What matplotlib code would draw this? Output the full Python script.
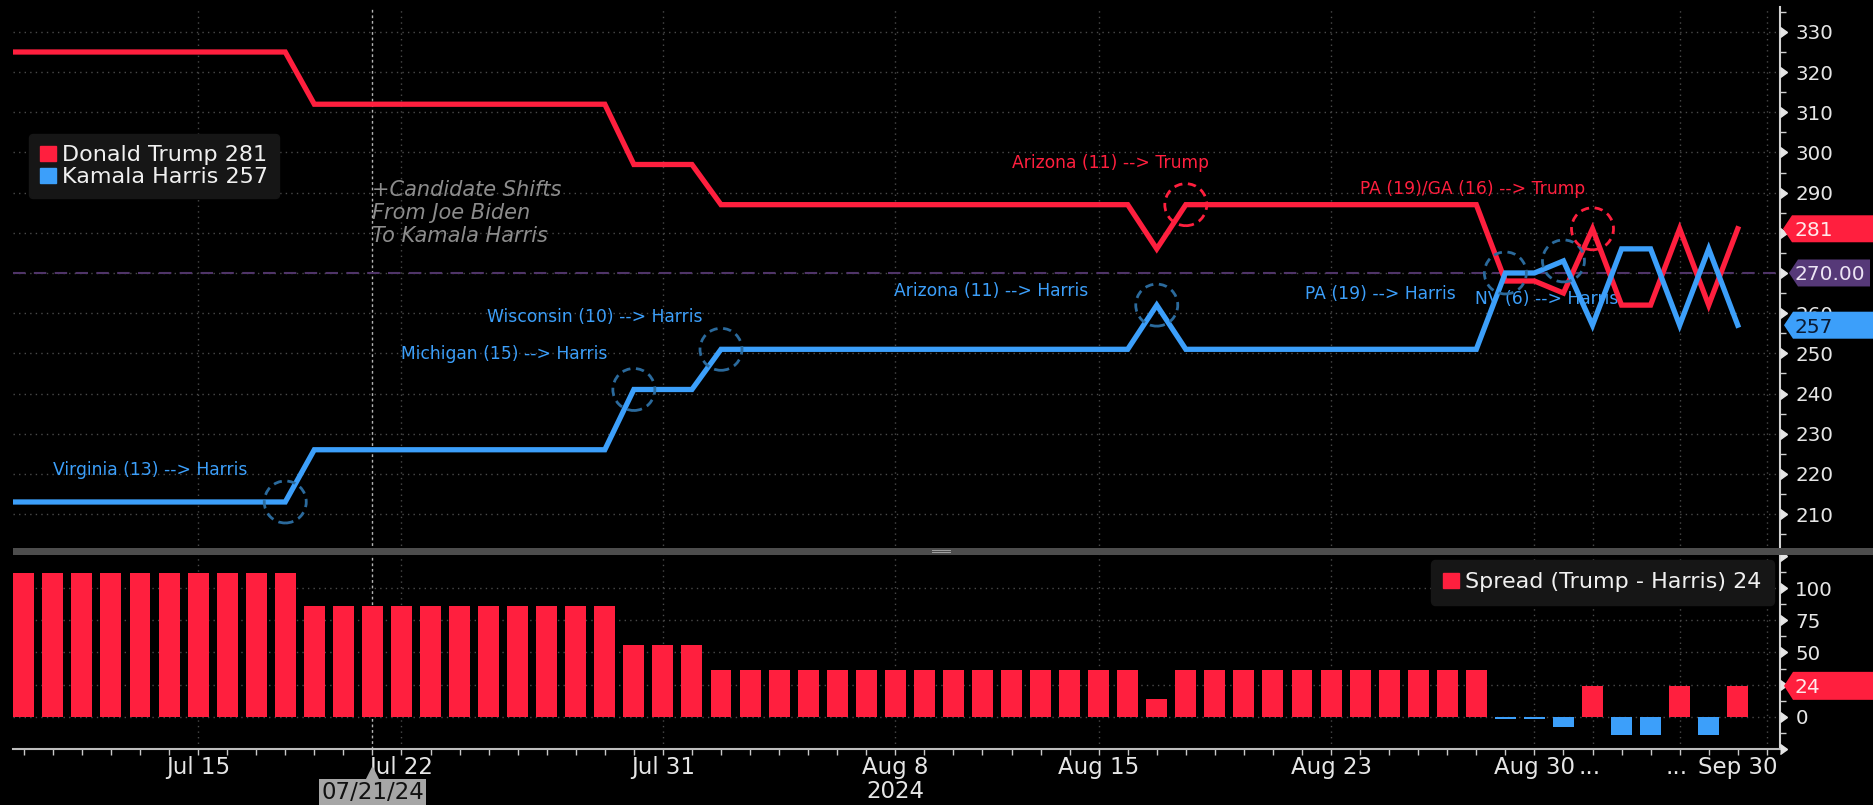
import numpy as np
import matplotlib.pyplot as plt
from matplotlib.patches import Ellipse, Patch, Polygon, Rectangle
from matplotlib.transforms import blended_transform_factory

plt.rcParams["font.family"] = ["DejaVu Sans"]

RED = "#ff1f3e"
BLUE = "#3c9ffa"
BLUE_RING = "#2b6a9c"
PURPLE = "#4f3468"
GRID = "#4a4a4a"
TXT = "#e6e6e6"

# day index: 0 = Jul 9 (index -1 = Jul 8, runs off the left edge)
days = np.arange(-1, 60)
trump = np.array([325] * 11 + [312] * 11 + [297] * 3 + [287] * 15 + [276] + [287] * 11
                 + [268, 268, 265, 281, 262, 262, 281, 262, 281])
harris = np.array([213] * 11 + [226] * 11 + [241] * 3 + [251] * 15 + [262] + [251] * 11
                  + [270, 270, 273, 257, 276, 276, 257, 276, 257])
spread = trump - harris

tick_pos = [6, 13, 22, 30, 37, 45, 52, 59]
tick_labels = ["Jul 15", "Jul 22", "Jul 31", "Aug 8\n2024", "Aug 15", "Aug 23", "Aug 30", "Sep 30"]
grid_days = [6, 13, 22, 30, 37, 45, 52, 54, 57, 60]
shift_day = 12  # 07/21/24
majority = 270

top_ticks = [210, 220, 230, 240, 250, 260, 270, 280, 290, 300, 310, 320, 330]
bottom_ticks = [-25, 0, 25, 50, 75, 100, 125]

# (label, circled day, circled value, text day, text value, colour)
events = [
    ("Virginia (13) --> Harris", 9, 213, 1.0, 221.0, "blue"),
    ("Michigan (15) --> Harris", 21, 241, 13.0, 249.8, "blue"),
    ("Wisconsin (10) --> Harris", 24, 251, 15.95, 259.1, "blue"),
    ("Arizona (11) --> Harris", 39, 262, 29.95, 265.4, "blue"),
    ("Arizona (11) --> Trump", 40, 287, 34.0, 297.3, "red"),
    ("PA (19) --> Harris", 51, 270, 44.1, 264.8, "blue"),
    ("NV (6) --> Harris", 53, 273, 49.95, 263.5, "blue"),
    ("PA (19)/GA (16) --> Trump", 54, 281, 46.0, 290.8, "red"),
]

W, H = 1873, 805
fig = plt.figure(figsize=(W / 100, H / 100), dpi=100, facecolor="black")


def frame(x0, y0, x1, y1):
    return [x0 / W, 1 - y1 / H, (x1 - x0) / W, (y1 - y0) / H]


ax = fig.add_axes(frame(13, 7, 1780, 551), facecolor="black")
ax2 = fig.add_axes(frame(13, 553, 1780, 749), facecolor="black", sharex=ax)

px_day, x_first = 29.05, 23.8
ax.set_xlim((13 - x_first) / px_day, (1780 - x_first) / px_day)
ax.set_ylim(200.8, 336.2)
ax2.set_ylim(-25.2, 127.5)

# flags on the right cover these tick labels
hidden = {trump[-1] // 10 * 10, majority, 25}

for a in (ax, ax2):
    for s in ("left", "top", "bottom"):
        a.spines[s].set_visible(False)
    a.spines["right"].set_color("#d0d0d0")
    a.spines["right"].set_linewidth(1.5)
    a.yaxis.tick_right()
    for g in grid_days:
        a.axvline(g, color=GRID, lw=1, ls=(0, (1, 3)), zorder=1)
    a.axvline(shift_day, color="#b5b5b5", lw=1, ls=(0, (2, 2)), zorder=1)
ax2.spines["bottom"].set_visible(True)
ax2.spines["bottom"].set_color("#bdbdbd")
ax2.spines["bottom"].set_linewidth(1.5)

# ---- top panel ----
ax.set_yticks(top_ticks)
ax.set_yticklabels(["" if t in hidden else str(t) for t in top_ticks])
ax.set_yticks(np.arange(205, 336, 10), minor=True)
ax.tick_params(axis="y", which="major", length=0, pad=11, labelsize=14.3, labelcolor=TXT)
ax.tick_params(axis="y", which="minor", length=4, width=1, color="#d0d0d0")
ax.tick_params(axis="x", which="both", bottom=False, labelbottom=False)
ax.grid(axis="y", which="major", color=GRID, ls=(0, (1, 3)), lw=1)
ax.set_axisbelow(True)
edge = blended_transform_factory(ax.transAxes, ax.transData)
ax.plot(np.ones(len(top_ticks)), top_ticks, ls="none", marker=9, ms=7, color=TXT,
        transform=edge, clip_on=False, zorder=6)

ax.axhline(majority, color=PURPLE, lw=1.5, ls=(0, (6, 4)), zorder=2)
ax.plot(days, trump, color=RED, lw=3.8, solid_joinstyle="miter", zorder=3)
ax.plot(days, harris, color=BLUE, lw=3.8, solid_joinstyle="miter", zorder=3.1)

for label, d, v, tx, ty, c in events:
    ring = RED if c == "red" else BLUE_RING
    tcol = RED if c == "red" else BLUE
    ax.add_patch(Ellipse((d, v), width=42 / px_day, height=42 / 4.017, fill=False,
                         ec=ring, lw=2, ls=(0, (3, 2)), zorder=4))
    ax.text(tx, ty, label, color=tcol, fontsize=12.3, ha="left", va="center", zorder=1.5)

ax.text(shift_day, 285.0, "+Candidate Shifts\nFrom Joe Biden\nTo Kamala Harris", color="#8c8c8c",
        fontsize=15, style="italic", ha="left", va="center", linespacing=1.2, zorder=2)

ax.legend(handles=[Patch(color=RED, label=f"Donald Trump {trump[-1]}"),
                   Patch(color=BLUE, label=f"Kamala Harris {harris[-1]}")],
          loc="upper left", bbox_to_anchor=(0.009, 0.7665), fontsize=16,
          handlelength=0.7, handleheight=0.7, handletextpad=0.3, labelspacing=0.1,
          borderpad=0.5, borderaxespad=0, frameon=True, fancybox=True,
          facecolor="#161616", edgecolor="#161616", framealpha=1, labelcolor="#f0f0f0")

# ---- bottom panel ----
ax2.bar(days, spread, width=0.72, color=[RED if s > 0 else BLUE for s in spread], zorder=3)
ax2.set_yticks([0, 25, 50, 75, 100])
ax2.set_yticklabels(["" if t in hidden else str(t) for t in [0, 25, 50, 75, 100]])
ax2.set_yticks(np.arange(-12.5, 126, 25), minor=True)
ax2.tick_params(axis="y", which="major", length=0, pad=11, labelsize=14.3, labelcolor=TXT)
ax2.tick_params(axis="y", which="minor", length=4, width=1, color="#d0d0d0")
ax2.grid(axis="y", which="major", color=GRID, ls=(0, (1, 3)), lw=1)
ax2.axhline(-25, color=GRID, ls=(0, (1, 3)), lw=1, zorder=1)
edge2 = blended_transform_factory(ax2.transAxes, ax2.transData)
ax2.plot(np.ones(len(bottom_ticks)), bottom_ticks, ls="none", marker=9, ms=7, color=TXT,
         transform=edge2, clip_on=False, zorder=6)

ax2.set_xticks(tick_pos)
ax2.set_xticklabels(tick_labels)
ax2.set_xticks(np.arange(0, 61), minor=True)
ax2.tick_params(axis="x", which="both", length=4.5, width=1, color="#c8c8c8", labelsize=16.5,
                labelcolor=TXT, pad=0.5)
for lab in ax2.get_xticklabels():
    lab.set_linespacing(1.05)
dots = blended_transform_factory(ax2.transData, ax2.transAxes)
ax2.text(53.9, -0.034, "...", transform=dots, ha="center", va="top", fontsize=16.5, color=TXT)
ax2.text(56.9, -0.034, "...", transform=dots, ha="center", va="top", fontsize=16.5, color=TXT)

ax2.legend(handles=[Patch(color=RED, label=f"Spread (Trump - Harris) {spread[-1]}")],
           loc="upper right", bbox_to_anchor=(0.9966, 0.964), fontsize=16,
           handlelength=0.7, handleheight=0.7, handletextpad=0.3, borderpad=0.55,
           borderaxespad=0, frameon=True, fancybox=True, facecolor="#161616",
           edgecolor="#161616", framealpha=1, labelcolor="#f0f0f0")

# 07/21/24 marker under the axis
mark = blended_transform_factory(ax2.transData, fig.transFigure)
ax2.plot([shift_day], [1 - 773 / H], marker="^", ms=9, color="#a6a6a6", transform=mark, clip_on=False)
ax2.text(shift_day, 1 - 792 / H, "07/21/24", transform=mark, ha="center", va="center",
         fontsize=16.5, color="#111111",
         bbox=dict(boxstyle="square,pad=0.08", fc="#a6a6a6", ec="none"))

# panel separator
fig.add_artist(Rectangle((13 / W, 1 - 555 / H), (W - 13) / W, 7 / H, transform=fig.transFigure,
                         fc="#4d4d4d", ec="none", zorder=10))
fig.add_artist(Rectangle((932 / W, 1 - 553 / H), 19 / W, 1 / H, transform=fig.transFigure,
                         fc="#a0a0a0", ec="none", zorder=11))
fig.add_artist(Rectangle((932 / W, 1 - 551 / H), 19 / W, 1 / H, transform=fig.transFigure,
                         fc="#a0a0a0", ec="none", zorder=11))


# value flags on the right edge
def flag(axis, value, label, fc, tc, x0, x1, h, tx):
    y = axis.transData.transform((0, value))[1]
    pts = [(x0, y), (x0 + 9, y + h / 2), (x1, y + h / 2), (x1, y - h / 2), (x0 + 9, y - h / 2)]
    fig.add_artist(Polygon([(px / W, py / H) for px, py in pts], closed=True,
                           transform=fig.transFigure, fc=fc, ec="none", zorder=12))
    fig.text(tx / W, (y - 7.3) / H, label, ha="left", va="baseline",
             color=tc, fontsize=14.5, zorder=13)


flag(ax, trump[-1], f"{trump[-1]}", RED, "#ffe8ea", 1783, 1873, 27, 1794)
flag(ax, majority, f"{majority:.2f}", "#563978", "#ece4f4", 1789, 1870, 27, 1795)
flag(ax, harris[-1], f"{harris[-1]}", BLUE, "#0b1b33", 1784, 1873, 27, 1794)
flag(ax2, spread[-1], f"{spread[-1]}", RED, "#ffe8ea", 1784, 1873, 28, 1794)

fig.savefig("out.png", dpi=100, facecolor="black")
